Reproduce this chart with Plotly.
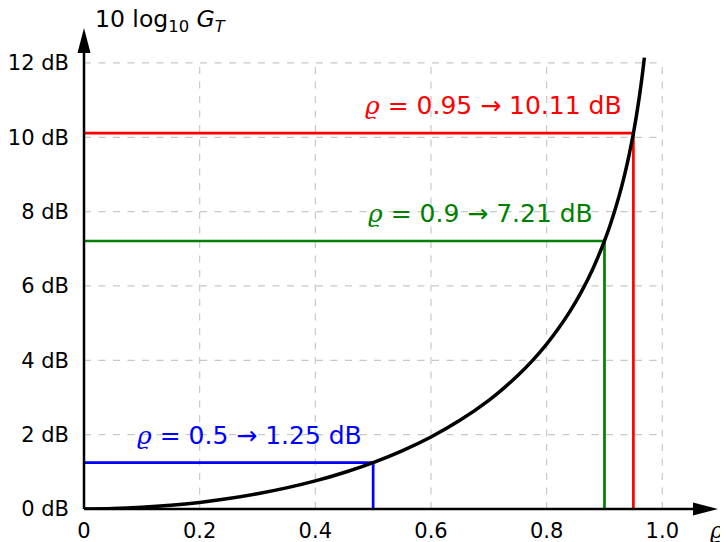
import plotly.graph_objects as go

# ---- data ----
rho = [0, 0.05, 0.1, 0.15, 0.2, 0.25, 0.3, 0.35, 0.4, 0.45, 0.5, 0.55, 0.6,
       0.65, 0.7, 0.725, 0.75, 0.775, 0.8, 0.82, 0.84, 0.86, 0.88, 0.9, 0.91,
       0.92, 0.93, 0.94, 0.95, 0.955, 0.96, 0.965, 0.969]
gain_db = [0, 0.011, 0.044, 0.099, 0.177, 0.280, 0.410, 0.568, 0.757, 0.983,
           1.249, 1.565, 1.938, 2.385, 2.924, 3.239, 3.590, 3.986, 4.437, 4.847,
           5.311, 5.843, 6.466, 7.212, 7.647, 8.136, 8.693, 9.341, 10.110,
           10.556, 11.057, 11.626, 12.144]

mark_rho = [0.5, 0.9, 0.95]
mark_db = [1.25, 7.21, 10.11]
mark_colors = ["#0000ff", "#008000", "#ff0000"]

x_ticks = [0, 0.2, 0.4, 0.6, 0.8, 1.0]
x_ticktext = ["0", "0.2", "0.4", "0.6", "0.8", "1.0"]
y_ticks = [0, 2, 4, 6, 8, 10, 12]
y_ticktext = ["0 dB", "2 dB", "4 dB", "6 dB", "8 dB", "10 dB", "12 dB"]

FONT = "DejaVu Sans"
GRID = "#c8c8c8"

fig = go.Figure()

# highlight lines
for r, d, c in zip(mark_rho, mark_db, mark_colors):
    fig.add_trace(go.Scatter(x=[0, r, r], y=[d, d, 0], mode="lines",
                             line=dict(color=c, width=2.7), hoverinfo="skip",
                             showlegend=False))

# main curve
fig.add_trace(go.Scatter(x=rho, y=gain_db, mode="lines",
                         line=dict(color="black", width=3.5, shape="spline"),
                         showlegend=False))

shapes = []
# grid (limited to the [0,1] x [0,12] box)
for v in x_ticks[1:]:
    shapes.append(dict(type="line", xref="x", yref="y", x0=v, x1=v,
                       y0=y_ticks[0], y1=y_ticks[-1], layer="below",
                       line=dict(color=GRID, width=1.2, dash="7px,7.5px")))
for v in y_ticks[1:]:
    shapes.append(dict(type="line", xref="x", yref="y", x0=x_ticks[0], x1=x_ticks[-1],
                       y0=v, y1=v, layer="below",
                       line=dict(color=GRID, width=1.2, dash="7px,7.5px")))
# axes with arrows (paper refs: not clipped by the plot area)
shapes.append(dict(type="line", xref="paper", yref="paper", x0=0, x1=0.985, y0=0, y1=0,
                   line=dict(color="black", width=2.5)))
shapes.append(dict(type="line", xref="paper", yref="paper", x0=0, x1=0, y0=0, y1=0.98,
                   line=dict(color="black", width=2.5)))
shapes.append(dict(type="path", xref="paper", yref="paper", xsizemode="pixel",
                   ysizemode="pixel", xanchor=1, yanchor=0,
                   path="M0,0 L-25,6.5 L-25,-6.5 Z", fillcolor="black",
                   line=dict(width=0)))
shapes.append(dict(type="path", xref="paper", yref="paper", xsizemode="pixel",
                   ysizemode="pixel", xanchor=0, yanchor=1,
                   path="M0,0 L-6.5,-25 L6.5,-25 Z", fillcolor="black",
                   line=dict(width=0)))

RHO = "<span style='font-family:DejaVu Serif'><i>ϱ</i></span>"

annotations = []
for r, d, c in zip(mark_rho, mark_db, mark_colors):
    txt = f"{RHO} = {r:g} → {d:.2f} dB"
    annotations.append(dict(x=r, y=d, xref="x", yref="y", text=txt, showarrow=False,
                            xanchor="right", yanchor="bottom", xshift=-9, yshift=11,
                            font=dict(family=FONT, size=25, color=c)))

annotations.append(dict(x=0, y=1, xref="paper", yref="paper",
                        text="10 log<sub>10</sub> <i>G</i><sub><i>T</i></sub>",
                        showarrow=False, xanchor="left", yanchor="middle",
                        xshift=9, yshift=8, font=dict(family=FONT, size=23.5, color="black")))
annotations.append(dict(x=1, y=0, xref="paper", yref="paper",
                        text=RHO,
                        showarrow=False, xanchor="center", yanchor="middle",
                        xshift=-1, yshift=-21, font=dict(family=FONT, size=23, color="black")))

# page body adds an 8px offset, so margins are shifted to compensate
fig.update_layout(
    width=728, height=542,
    margin=dict(l=76, r=18, t=20, b=41, autoexpand=False),
    paper_bgcolor="white", plot_bgcolor="white",
    font=dict(family=FONT, size=21, color="black"),
    shapes=shapes, annotations=annotations,
    xaxis=dict(range=[0, 1.0963], tickvals=x_ticks, ticktext=x_ticktext,
               showgrid=False, zeroline=False, showline=False, ticks="",
               automargin=False, ticklabelstandoff=7, tickfont=dict(size=21)),
    yaxis=dict(range=[0, 12.94], tickvals=y_ticks, ticktext=y_ticktext,
               showgrid=False, zeroline=False, showline=False, ticks="",
               automargin=False, ticklabelstandoff=14, tickfont=dict(size=21)),
)

fig.write_html("out.html")
